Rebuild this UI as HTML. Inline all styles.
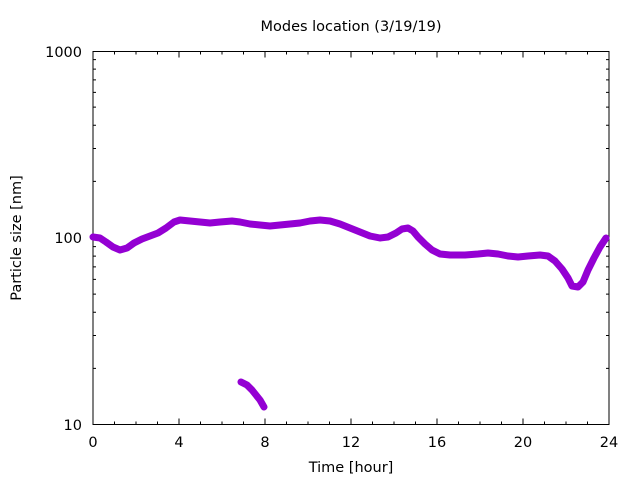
<!DOCTYPE html>
<html><head><style>body{margin:0;background:#fff}svg{display:block}text{font-family:"DejaVu Sans",sans-serif;font-size:14.5px;fill:#000}</style></head>
<body>
<svg width="640" height="480" viewBox="0 0 640 480">
<rect width="640" height="480" fill="#fff"/>
<g stroke="#000" stroke-width="1" fill="none">
<rect x="93" y="51.5" width="516" height="373"/>
<path d="M93 424.5h6M609 424.5h-6M93 237.5h6M609 237.5h-6M93 51.5h6M609 51.5h-6
M93 368.4h3M93 335.5h3M93 312.2h3M93 294.1h3M93 279.4h3M93 266.9h3M93 256.1h3M93 246.6h3
M93 181.4h3M93 148.5h3M93 125.2h3M93 107.1h3M93 92.4h3M93 79.9h3M93 69.1h3M93 59.6h3
M609 368.4h-3M609 335.5h-3M609 312.2h-3M609 294.1h-3M609 279.4h-3M609 266.9h-3M609 256.1h-3M609 246.6h-3
M609 181.4h-3M609 148.5h-3M609 125.2h-3M609 107.1h-3M609 92.4h-3M609 79.9h-3M609 69.1h-3M609 59.6h-3"/>
<path d="M179 424.5v-6M265 424.5v-6M351 424.5v-6M437 424.5v-6M523 424.5v-6M179 51.5v6M265 51.5v6M351 51.5v6M437 51.5v6M523 51.5v6
M114.5 424.5v-3M136 424.5v-3M157.5 424.5v-3M200.5 424.5v-3M222 424.5v-3M243.5 424.5v-3M286.5 424.5v-3M308 424.5v-3M329.5 424.5v-3M372.5 424.5v-3M394 424.5v-3M415.5 424.5v-3M458.5 424.5v-3M480 424.5v-3M501.5 424.5v-3M544.5 424.5v-3M566 424.5v-3M587.5 424.5v-3
M114.5 51.5v3M136 51.5v3M157.5 51.5v3M200.5 51.5v3M222 51.5v3M243.5 51.5v3M286.5 51.5v3M308 51.5v3M329.5 51.5v3M372.5 51.5v3M394 51.5v3M415.5 51.5v3M458.5 51.5v3M480 51.5v3M501.5 51.5v3M544.5 51.5v3M566 51.5v3M587.5 51.5v3"/>
</g>
<g stroke="#9400d3" stroke-width="7" fill="none" stroke-linejoin="round" stroke-linecap="round">
<polyline points="93,237 100,238 106,242 113,247 120,250 127,248 134,243 142,239 150,236 158,233 166,228 174,222 180,220 190,221 200,222 210,223 220,222 232,221 240,222 250,224 260,225 270,226 280,225 290,224 300,223 310,221 320,220 330,221 340,224 350,228 360,232 370,236 380,238 388,237 396,233 402,229 408,228 413,231 418,237 425,244 432,250 440,254 450,255 465,255 478,254 488,253 498,254 508,256 518,257 528,256 540,255 548,256 555,261 562,269 568,278 572,286 578,287 583,282 588,270 594,258 600,247 606,238"/>
<polyline points="241,382 247,385 252,390 256,395 260,400 264,407"/>
</g>
<text x="351" y="31" text-anchor="middle">Modes location (3/19/19)</text>
<text x="82" y="57" text-anchor="end">1000</text>
<text x="82" y="243" text-anchor="end">100</text>
<text x="82" y="430" text-anchor="end">10</text>
<text x="93" y="447" text-anchor="middle">0</text>
<text x="179" y="447" text-anchor="middle">4</text>
<text x="265" y="447" text-anchor="middle">8</text>
<text x="351" y="447" text-anchor="middle">12</text>
<text x="437" y="447" text-anchor="middle">16</text>
<text x="523" y="447" text-anchor="middle">20</text>
<text x="609" y="447" text-anchor="middle">24</text>
<text x="351" y="472" text-anchor="middle">Time [hour]</text>
<text transform="translate(21,238) rotate(-90)" text-anchor="middle">Particle size [nm]</text>
</svg>
</body></html>
